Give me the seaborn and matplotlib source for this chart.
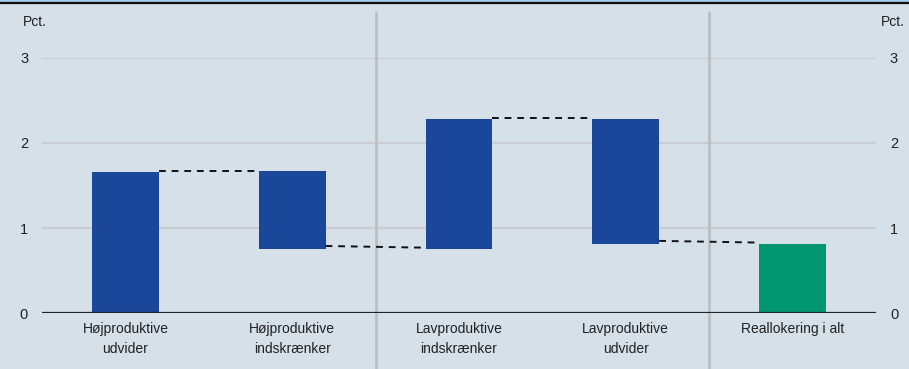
import numpy as np
import pandas as pd
import matplotlib.pyplot as plt
import seaborn as sns
from matplotlib.lines import Line2D
from matplotlib.patches import Rectangle

# Bars (waterfall): bottom and top of each bar, in pct.
categories = [
    "Højproduktive\nudvider",
    "Højproduktive\nindskrænker",
    "Lavproduktive\nindskrænker",
    "Lavproduktive\nudvider",
    "Reallokering i alt",
]
bar_bottom = [0.0, 0.755, 0.755, 0.81, 0.0]
bar_top = [1.655, 1.67, 2.28, 2.28, 0.81]

# Dashed connectors between neighbouring bars (start level, end level)
conn_start = [1.668, 0.79, 2.29, 0.85]
conn_end = [1.668, 0.77, 2.29, 0.83]

yticks = [0, 1, 2, 3]

blue = "#1a4799"
green = "#00976f"
bg = "#d6e0e9"

data = pd.DataFrame({
    "cat": categories,
    "height": np.array(bar_top) - np.array(bar_bottom),
    "bottom": bar_bottom,
})

sns.set_theme(style="white")
plt.rcParams["font.family"] = ["Liberation Sans", "DejaVu Sans"]

fig = plt.figure(figsize=(9.09, 3.69), dpi=100, facecolor=bg)
ax = fig.add_axes([0.0462, 0.151, 0.9175, 0.6926])
ax.set_facecolor(bg)

sns.barplot(data=data, x="cat", y="height", bottom=data["bottom"].to_numpy(),
            color=blue, saturation=1, width=0.4, ax=ax, zorder=3)
for p in ax.patches:
    p.set_edgecolor("none")
ax.patches[-1].set_facecolor(green)

# connectors
for i in range(len(conn_start)):
    ax.plot([i + 0.2, i + 0.8], [conn_start[i], conn_end[i]],
            ls=(0, (3.5, 3)), color="#111111", lw=1.4, zorder=4)

ax.set_xlim(-0.5, 4.5)
ax.set_ylim(0, 3)
ax.set_yticks(yticks)
ax.yaxis.grid(True, color="#c9cdd1", lw=1.6, zorder=0)
ax.set_axisbelow(True)
for s in ax.spines.values():
    s.set_visible(False)
ax.axhline(0, color="#1e2327", lw=1.6, zorder=5)
ax.set_xlabel("")
ax.set_ylabel("")
ax.tick_params(axis="y", length=0, pad=10, labelsize=10.5, labelcolor="#222222",
               labelleft=True, labelright=True)
ax.tick_params(axis="x", length=0, pad=6, labelsize=10, labelcolor="#222222")
for lbl in ax.get_xticklabels():
    lbl.set_linespacing(1.55)

# separators
for xs in [1.5, 3.5]:
    ax.axvline(xs, ymin=-0.218, ymax=1.18, color="#bdbfc1", lw=2,
               clip_on=False, zorder=1)

fig.text(23 / 909, 1 - 22 / 369, "Pct.", fontsize=10, color="#222222",
         ha="left", va="center")
fig.text(905 / 909, 1 - 22 / 369, "Pct.", fontsize=10, color="#222222",
         ha="right", va="center")

# top band
fig.patches.append(Rectangle((0, 1 - 2 / 369), 1, 2 / 369, transform=fig.transFigure,
                             facecolor="#a4cbe6", edgecolor="none"))
fig.lines.append(Line2D([0, 1], [1 - 3 / 369, 1 - 3 / 369], transform=fig.transFigure,
                        color="#111111", lw=1.6))

fig.savefig("out.png", dpi=100, facecolor=bg)
